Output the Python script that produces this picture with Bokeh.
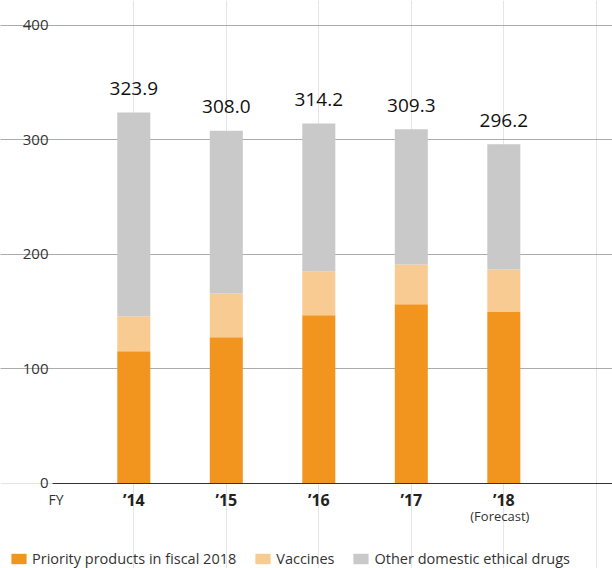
from bokeh.plotting import figure
from bokeh.models import (FixedTicker, Legend, LegendItem, Range1d, ColumnDataSource,
                          LinearAxis, Grid)
from bokeh.core.properties import value
from bokeh.embed import file_html
from bokeh.resources import INLINE

years = ["’14", "’15", "’16", "’17", "’18"]
xpos = [0, 1, 2, 3, 4]
priority = [115.4, 127.7, 146.9, 156.5, 150.1]
vaccines = [30.6, 38.1, 38.1, 34.6, 36.6]
other = [177.9, 142.2, 129.2, 118.2, 109.5]
totals = [323.9, 308.0, 314.2, 309.3, 296.2]
y_ticks = [0, 100, 200, 300, 400]
series_names = ["Priority products in fiscal 2018", "Vaccines", "Other domestic ethical drugs"]
colors = ["#F2951F", "#F8CB93", "#C8C9C8"]

FONT = "Open Sans"
X_LEFT = -0.879   # left end of the plotting area (where the axis/grid lines begin)
X_RIGHT = 5.175

src = ColumnDataSource(dict(x=xpos, priority=priority, vaccines=vaccines, other=other,
                            total=totals, label=[f"{t:.1f}" for t in totals]))

p = figure(width=612, height=568, x_range=Range1d(-1.441, X_RIGHT), y_range=Range1d(-74.2, 421.6),
           output_backend="svg", toolbar_location=None,
           x_axis_location=None, y_axis_location=None,
           min_border_left=0, min_border_right=0, min_border_top=0, min_border_bottom=0)
p.outline_line_color = None
p.background_fill_color = "white"

# grid
ygrid = Grid(dimension=1, ticker=FixedTicker(ticks=y_ticks[1:]), bounds=(X_LEFT, X_RIGHT),
             grid_line_color="#707070", grid_line_dash="1 1", grid_line_width=1)
p.add_layout(ygrid)

renderers = p.vbar_stack(["priority", "vaccines", "other"], x="x", width=0.357, source=src,
                         color=colors, line_color=None)

p.text(x="x", y="total", text="label", source=src, text_align="center", text_baseline="alphabetic",
       y_offset=-24, text_font=value(FONT), text_font_size="19px", text_color="#111111")

# FY and (Forecast)
p.text(x=[-0.84], y=[0], text=["FY"], text_align="center", text_baseline="top", y_offset=7,
       text_font=value(FONT), text_font_size="14px", text_color="#333333")
p.text(x=[4], y=[0], text=["(Forecast)"], text_align="center", text_baseline="top", x_offset=-4, y_offset=24,
       text_font=value(FONT), text_font_size="13px", text_color="#333333")

# axes
yaxis = LinearAxis(fixed_location=X_LEFT, ticker=FixedTicker(ticks=y_ticks),
                   axis_line_color=None, major_tick_line_color=None, minor_tick_line_color=None,
                   major_tick_out=0, major_tick_in=0, major_label_standoff=4,
                   major_label_text_font=FONT, major_label_text_font_size="15px",
                   major_label_text_color="#333333")
p.add_layout(yaxis, "left")

xaxis = LinearAxis(fixed_location=0, ticker=FixedTicker(ticks=xpos),
                   major_label_overrides={i: y for i, y in zip(xpos, years)},
                   bounds=(X_LEFT, X_RIGHT),
                   axis_line_color="#333333", axis_line_width=1,
                   major_tick_line_color=None, minor_tick_line_color=None,
                   major_tick_out=0, major_tick_in=0, major_label_standoff=6,
                   major_label_text_font=FONT, major_label_text_font_style="bold",
                   major_label_text_font_size="16px", major_label_text_color="#222222")
p.add_layout(xaxis, "below")

legend = Legend(items=[LegendItem(label=n, renderers=[r]) for n, r in zip(series_names, renderers)],
                orientation="horizontal", location=(9, 0),
                padding=0, margin=0, spacing=17, glyph_width=19, glyph_height=13, label_height=16,
                label_standoff=4, label_text_font=FONT, label_text_font_size="14.5px",
                label_text_color="#333333", border_line_color=None, background_fill_alpha=0)
p.add_layout(legend)

open("out.html", "w").write(file_html(p, INLINE))
